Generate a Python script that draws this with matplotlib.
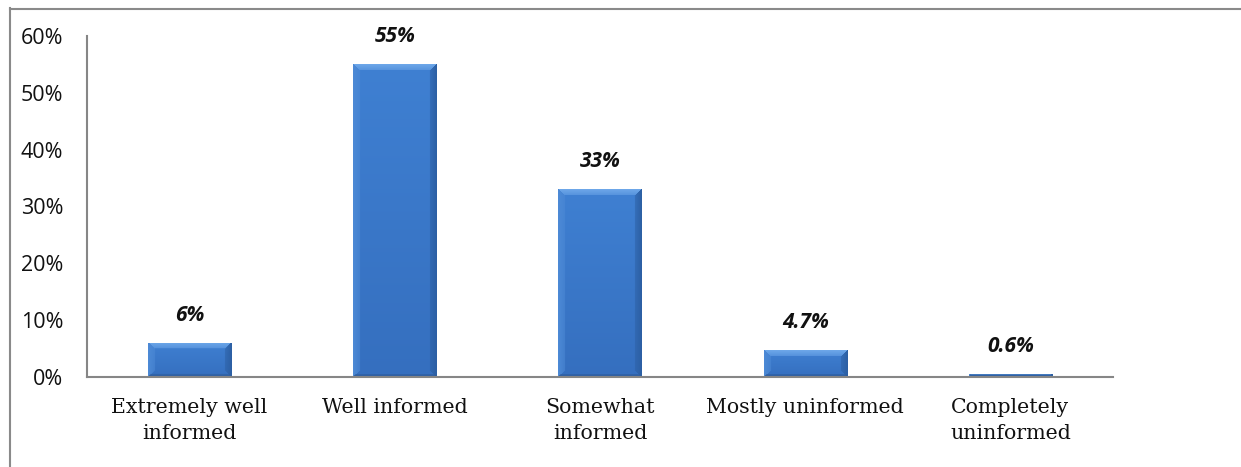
import numpy as np
import matplotlib
matplotlib.use("Agg")
import matplotlib.pyplot as plt
from matplotlib.ticker import FixedLocator, FuncFormatter
from matplotlib.lines import Line2D
import matplotlib.colors as mcolors

# ---- data ----
categories = ["Extremely well\ninformed", "Well informed", "Somewhat\ninformed",
              "Mostly uninformed", "Completely\nuninformed"]
values = [6, 55, 33, 4.7, 0.6]
value_labels = ["6%", "55%", "33%", "4.7%", "0.6%"]
yticks = [0, 10, 20, 30, 40, 50, 60]

W, H, DPI = 1241, 467, 100
fig = plt.figure(figsize=(W / DPI, H / DPI), dpi=DPI)
fig.patch.set_facecolor("white")

ax = fig.add_axes([87 / W, 1 - 377 / H, (1113 - 87) / W, (377 - 36) / H])
x = np.arange(len(categories))
bar_w = 0.405
ax.set_xlim(-0.5, len(categories) - 0.5)
ax.set_ylim(0, 60)

bars = ax.bar(x, values, width=bar_w, color="#3b7bcb", edgecolor="none", zorder=2)

# bevel shading via image clipped to each bar
face = np.array(mcolors.to_rgb("#3f80d2"))
face_bot = np.array(mcolors.to_rgb("#356fbf"))
top_c = np.array(mcolors.to_rgb("#6ea8ea"))
left_c = np.array(mcolors.to_rgb("#4d8ad6"))
right_c = np.array(mcolors.to_rgb("#2c5fa3"))
bot_c = np.array(mcolors.to_rgb("#2d5c9c"))
fig.canvas.draw()
for b in bars:
    x0, y0 = b.get_x(), b.get_y()
    x1, y1 = x0 + b.get_width(), y0 + b.get_height()
    (px0, py0), (px1, py1) = ax.transData.transform([(x0, y0), (x1, y1)])
    wpx = max(int(round(px1 - px0)), 2)
    hpx = max(int(round(py1 - py0)), 2)
    jj, ii = np.meshgrid(np.arange(wpx) + 0.5, np.arange(hpx) + 0.5)  # ii from top
    dl, dr, dt, db = jj, wpx - jj, ii, hpx - ii
    t = ii / max(hpx, 1)
    img = face[None, None, :] * (1 - t[..., None]) + face_bot[None, None, :] * t[..., None]
    bev = 7
    bevt = min(6, hpx * 0.6)
    dmin = np.minimum(np.minimum(dl, dr), np.minimum(dt * bev / bevt, db))
    for d, c, lim in ((dl, left_c, bev), (dr, right_c, bev), (dt * bev / bevt, top_c, bev), (db, bot_c, 3)):
        m = (d == dmin) & (d < lim)
        fade = (1 - d / lim)[..., None] * 0.5 + 0.5
        blend = img * (1 - fade) + c[None, None, :] * fade
        img = np.where(m[..., None], blend, img)
    im = ax.imshow(img, extent=(x0, x1, y0, y1), aspect="auto", zorder=3,
                   interpolation="bilinear")
    im.set_clip_path(b)

# axes styling
for s in ("top", "right"):
    ax.spines[s].set_visible(False)
ax.spines["left"].set_color("#868686")
ax.spines["bottom"].set_color("#868686")
ax.spines["left"].set_linewidth(1.5)
ax.spines["bottom"].set_linewidth(1.5)
ax.spines["bottom"].set_zorder(4)
ax.yaxis.set_major_locator(FixedLocator(yticks))
ax.yaxis.set_major_formatter(FuncFormatter(lambda v, p: f"{int(v)}%"))
ax.tick_params(axis="y", length=0, pad=17, labelsize=15.5, labelcolor="#111111")
ax.tick_params(axis="x", length=0, pad=15)
for lab in ax.get_yticklabels():
    lab.set_family("Open Sans")
ax.set_xticks(x)
ax.set_xticklabels(categories, fontfamily="DejaVu Serif", fontsize=14.8,
                   linespacing=1.45, color="#111111", va="top")
ax.patch.set_visible(False)

for xi, v, lab in zip(x, values, value_labels):
    ax.annotate(lab, (xi, v), xytext=(0, 17), textcoords="offset pixels",
                ha="center", va="bottom", fontsize=15, fontweight="bold",
                fontstyle="italic", fontfamily="Open Sans", color="#111111")

# outer frame (left and top only)
fig.add_artist(Line2D([9.5 / W, 9.5 / W], [0, 1 - 8 / H], transform=fig.transFigure,
                      color="#8a8a8a", lw=1.5))
fig.add_artist(Line2D([9.5 / W, 1], [1 - 8.5 / H, 1 - 8.5 / H], transform=fig.transFigure,
                      color="#8a8a8a", lw=1.5))

fig.savefig("out.png", dpi=DPI, facecolor="white")
